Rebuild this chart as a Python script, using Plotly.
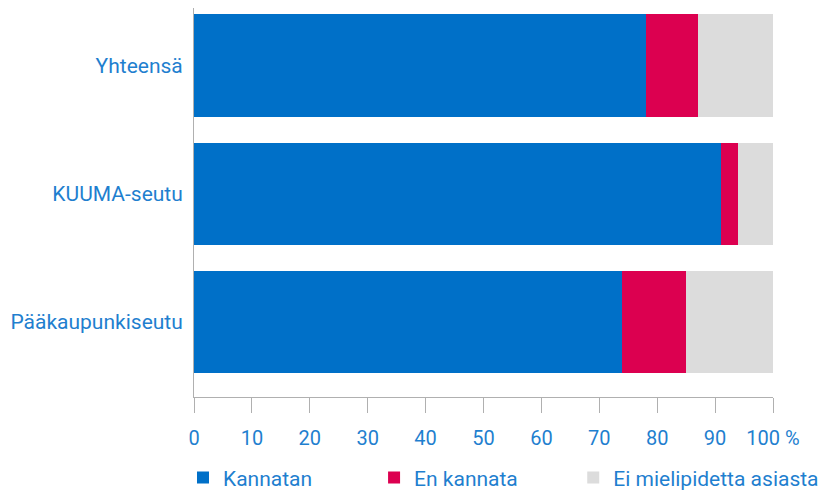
import plotly.graph_objects as go

categories = ["Pääkaupunkiseutu", "KUUMA-seutu", "Yhteensä"]
kannatan = [74, 91, 78]
en_kannata = [11, 3, 9]
ei_mielipidetta = [15, 6, 13]
series_names = ["Kannatan", "En kannata", "Ei mielipidetta asiasta"]
tick_vals = [0, 10, 20, 30, 40, 50, 60, 70, 80, 90, 100]
tick_text = ["0", "10", "20", "30", "40", "50", "60", "70", "80", "90", "100 %"]

colors = ["#0070c8", "#dc0050", "#dcdcdc"]
text_color = "#1f7fcf"
font_family = "Roboto, Liberation Sans Narrow, sans-serif"
legend_ids = ["legend", "legend2", "legend3"]
legend_x = [-0.019, 0.311, 0.655]

fig = go.Figure()
for name, vals, col, lid in zip(series_names, [kannatan, en_kannata, ei_mielipidetta], colors, legend_ids):
    fig.add_trace(go.Bar(
        y=categories, x=vals, name=name, orientation="h",
        marker=dict(color=col, line=dict(width=0)),
        hoverinfo="skip", legend=lid,
    ))

legend_common = dict(
    orientation="h", xanchor="left", y=-0.155, yanchor="top",
    font=dict(size=21, color=text_color), bgcolor="rgba(0,0,0,0)",
)

fig.update_layout(
    width=831, height=494,
    barmode="stack", bargap=0.2,
    plot_bgcolor="white", paper_bgcolor="white",
    margin=dict(l=186, r=66, t=0, b=105, autoexpand=False),
    font=dict(family=font_family, color=text_color),
    showlegend=True,
    legend=dict(x=legend_x[0], **legend_common),
    legend2=dict(x=legend_x[1], **legend_common),
    legend3=dict(x=legend_x[2], **legend_common),
    xaxis=dict(
        range=[0, 100], tickmode="array", tickvals=tick_vals, ticktext=tick_text,
        showgrid=False, zeroline=False, showline=True, linecolor="#b0b0b0", linewidth=1,
        ticks="outside", ticklen=15, tickcolor="#b0b0b0", tickwidth=1,
        tickfont=dict(size=20, color=text_color), ticklabelstandoff=8,
        fixedrange=True,
    ),
    yaxis=dict(
        range=[-0.586, 2.45], showgrid=False, zeroline=False,
        showline=True, linecolor="#b0b0b0", linewidth=1,
        ticks="", tickfont=dict(size=21, color=text_color), ticklabelstandoff=6,
        fixedrange=True,
    ),
)

fig.write_html("out.html")
